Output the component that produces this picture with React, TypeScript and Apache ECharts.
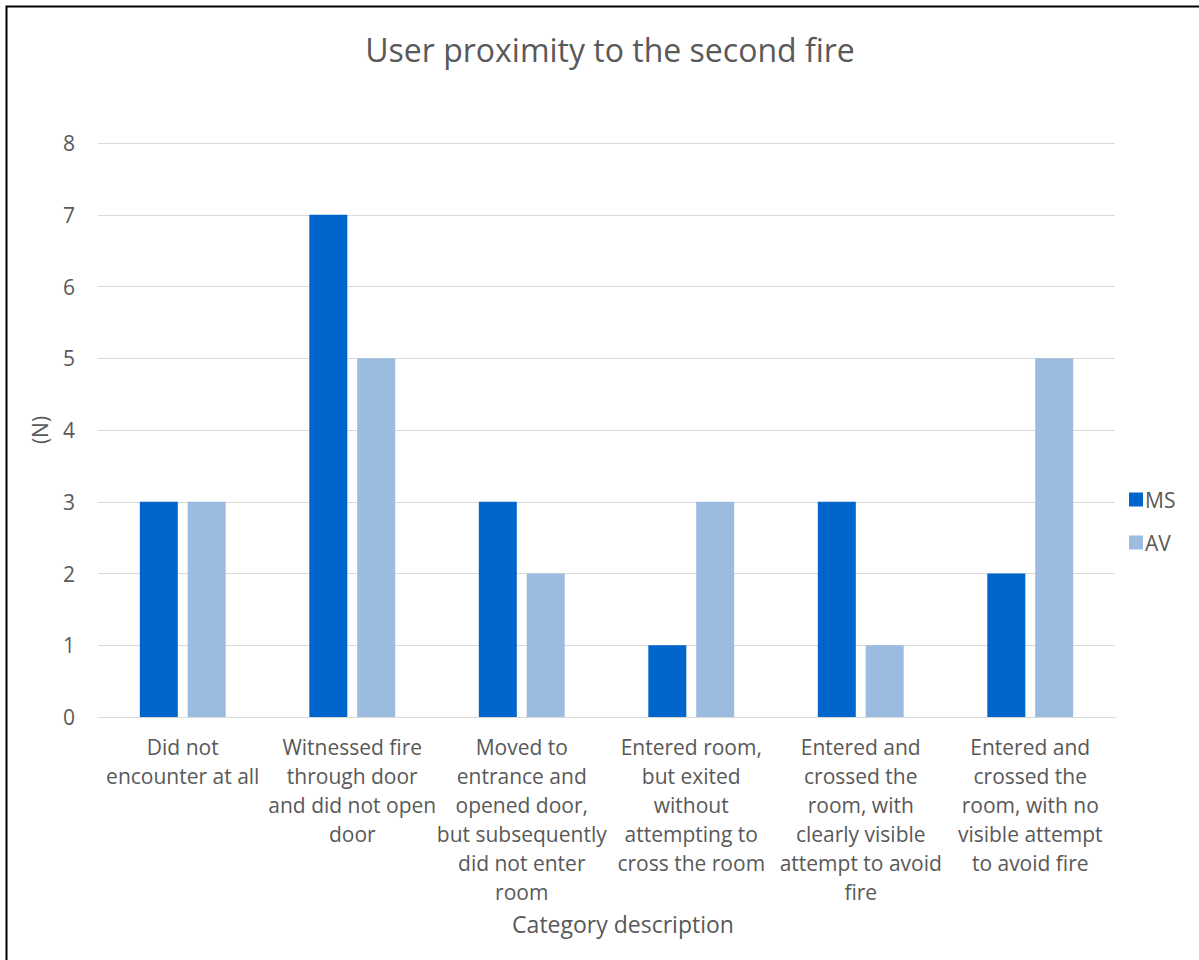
import React, { useEffect, useRef } from "react";
import * as echarts from "echarts";

const categories = [
  "Did not\nencounter at all",
  "Witnessed fire\nthrough door\nand did not open\ndoor",
  "Moved to\nentrance and\nopened door,\nbut subsequently\ndid not enter\nroom",
  "Entered room,\nbut exited\nwithout\nattempting to\ncross the room",
  "Entered and\ncrossed the\nroom, with\nclearly visible\nattempt to avoid\nfire",
  "Entered and\ncrossed the\nroom, with no\nvisible attempt\nto avoid fire",
];
const msValues = [3, 7, 3, 1, 3, 2];
const avValues = [3, 5, 2, 3, 1, 5];
const seriesNames = ["MS", "AV"];
const titleText = "User proximity to the second fire";
const yAxisName = "(N)";
const xAxisName = "Category description";

const FONT = "'Open Sans', sans-serif";
const TXT = "#595959";

export default function App() {
  const ref = useRef<HTMLDivElement>(null);
  useEffect(() => {
    const chart = echarts.init(ref.current!, null, { renderer: "svg" });
    chart.setOption({
      animation: false,
      backgroundColor: "#ffffff",
      textStyle: { fontFamily: FONT },
      title: {
        text: titleText,
        left: 605,
        top: 28,
        textAlign: "center",
        textStyle: { fontFamily: FONT, fontSize: 32, fontWeight: "normal", color: TXT },
      },
      legend: {
        data: seriesNames,
        orient: "vertical",
        left: 1124,
        top: 484,
        itemWidth: 14,
        itemHeight: 14,
        itemGap: 22,
        icon: "rect",
        textStyle: { fontFamily: FONT, fontSize: 21, color: TXT, padding: [0, 0, 0, -3] },
      },
      grid: { left: 98, right: 84, top: 143, bottom: 243, containLabel: false },
      xAxis: {
        type: "category",
        data: categories,
        axisLine: { lineStyle: { color: "#d9d9d9", width: 1 } },
        axisTick: { show: false },
        axisLabel: {
          interval: 0,
          margin: 15,
          fontFamily: FONT,
          fontSize: 21,
          lineHeight: 29,
          color: TXT,
          align: "center",
        },
      },
      yAxis: {
        type: "value",
        min: 0,
        max: 8,
        interval: 1,
        axisLine: { show: false },
        axisTick: { show: false },
        splitLine: { lineStyle: { color: "#d9d9d9", width: 1 } },
        axisLabel: { margin: 23, fontFamily: FONT, fontSize: 21, color: TXT },
      },
      series: [
        {
          name: seriesNames[0],
          type: "bar",
          data: msValues,
          barWidth: 38,
          barGap: "26%",
          itemStyle: { color: "#0066cc" },
        },
        {
          name: seriesNames[1],
          type: "bar",
          data: avValues,
          barWidth: 38,
          itemStyle: { color: "#9bbce0" },
        },
      ],
      graphic: [
        {
          type: "rect",
          shape: { x: 6.5, y: 6.5, width: 1300, height: 1100 },
          style: { fill: "none", stroke: "#000000", lineWidth: 2 },
          silent: true,
        },
        {
          type: "text",
          x: 40,
          y: 430,
          rotation: Math.PI / 2,
          style: {
            text: yAxisName,
            fontFamily: FONT,
            fontSize: 21,
            fill: TXT,
            align: "center",
            verticalAlign: "middle",
          },
        },
        {
          type: "text",
          x: 623,
          y: 924,
          style: {
            text: xAxisName,
            fontFamily: FONT,
            fontSize: 23,
            fill: TXT,
            align: "center",
            verticalAlign: "middle",
          },
        },
      ],
    });
    return () => chart.dispose();
  }, []);
  return (
    <div
      ref={ref}
      style={{ position: "fixed", left: 0, top: 0, width: 1199, height: 960 }}
    />
  );
}
